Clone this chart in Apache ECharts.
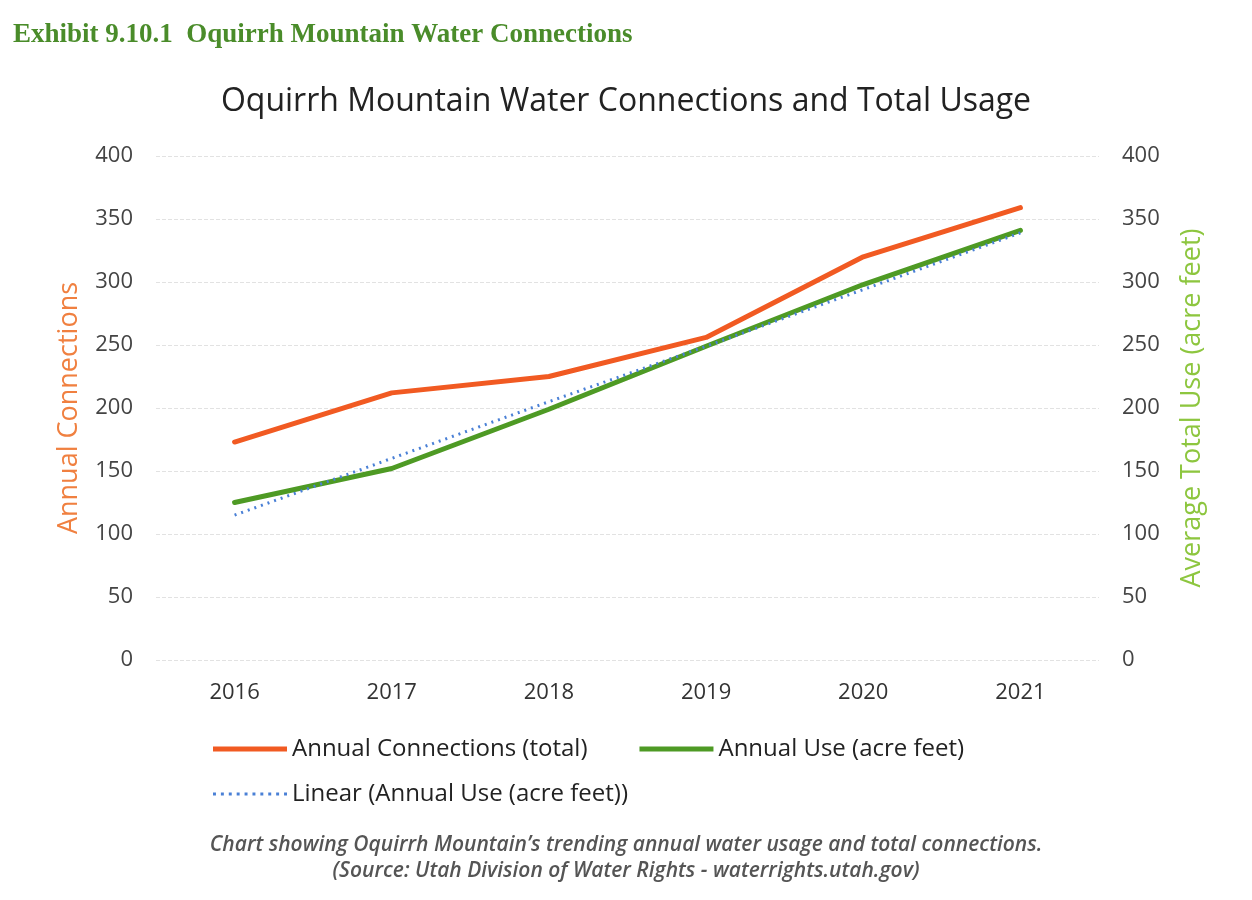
<!DOCTYPE html>
<html>
<head>
<meta charset="utf-8">
<script src="https://cdn.jsdelivr.net/npm/echarts@6/dist/echarts.min.js"></script>
<style>
html,body{margin:0;padding:0;background:#fff;}
#c{width:1252px;height:900px;}
</style>
</head>
<body>
<div id="c"></div>
<script>
const years = ['2016','2017','2018','2019','2020','2021'];
const connections = [173, 212, 225, 256, 320, 359];
const annualUse = [125, 152, 199, 249, 298, 341];
const linearUse = [115, 160, 205, 249, 294, 339];

const FONT = 'Open Sans';
const dottedIcon = 'path://M0,0h3v3h-3z M8,0h3v3h-3z M16,0h3v3h-3z M24,0h3v3h-3z M32,0h3v3h-3z M40,0h3v3h-3z M48,0h3v3h-3z M56,0h3v3h-3z M64,0h3v3h-3z M72,0h3v3h-3z';

const chart = echarts.init(document.getElementById('c'));
chart.setOption({
  backgroundColor: '#ffffff',
  animation: false,
  title: [
    { text: 'Exhibit 9.10.1  Oquirrh Mountain Water Connections', left: 8, top: 17,
      textStyle: { fontFamily: 'Liberation Serif', fontWeight: 'bold', fontSize: 27, color: '#4a8c2a' } },
    { text: 'Oquirrh Mountain Water Connections and Total Usage', left: 'center', top: 81,
      textStyle: { fontFamily: FONT, fontWeight: 'normal', fontSize: 32, color: '#222' } }
  ],
  graphic: [
    { type: 'text', x: 626, y: 845, style: { text: 'Chart showing Oquirrh Mountain\u2019s trending annual water usage and total connections.',
      align: 'center', verticalAlign: 'middle', fontFamily: FONT, fontStyle: 'italic', fontWeight: 600, fontSize: 21, fill: '#555' } },
    { type: 'text', x: 626, y: 871, style: { text: '(Source: Utah Division of Water Rights - waterrights.utah.gov)',
      align: 'center', verticalAlign: 'middle', fontFamily: FONT, fontStyle: 'italic', fontWeight: 600, fontSize: 21, fill: '#555' } }
  ],
  legend: [
    { left: 208, top: 732, itemWidth: 74, itemHeight: 5, itemGap: 52, icon: 'rect',
      data: [{ name: 'Annual Connections (total)' }, { name: 'Annual Use (acre feet)' }],
      textStyle: { fontFamily: FONT, fontSize: 24, color: '#222' } },
    { left: 208, top: 777, itemWidth: 74, itemHeight: 3, icon: dottedIcon,
      data: [{ name: 'Linear (Annual Use (acre feet))' }],
      textStyle: { fontFamily: FONT, fontSize: 24, color: '#222' } }
  ],
  grid: { left: 156, right: 153, top: 156, bottom: 240 },
  xAxis: {
    type: 'category', data: years, boundaryGap: true,
    axisLine: { show: false }, axisTick: { show: false },
    axisLabel: { fontFamily: FONT, fontSize: 22, color: '#333', margin: 22 }
  },
  yAxis: [
    { type: 'value', min: 0, max: 400, interval: 50, position: 'left',
      name: 'Annual Connections', nameLocation: 'middle', nameGap: 73, nameRotate: 90,
      nameTextStyle: { fontFamily: FONT, fontSize: 27, color: '#f08040' },
      axisLine: { show: false }, axisTick: { show: false },
      axisLabel: { fontFamily: FONT, fontSize: 22, color: '#444', margin: 23 },
      splitLine: { lineStyle: { color: '#e2e2e2', type: 'dashed', width: 1 } } },
    { type: 'value', min: 0, max: 400, interval: 50, position: 'right',
      name: 'Average Total Use (acre feet)', nameLocation: 'middle', nameGap: 80, nameRotate: 90,
      nameTextStyle: { fontFamily: FONT, fontSize: 27, color: '#8dc63f' },
      axisLine: { show: false }, axisTick: { show: false },
      axisLabel: { fontFamily: FONT, fontSize: 22, color: '#444', margin: 23 },
      splitLine: { show: false } }
  ],
  series: [
    { name: 'Annual Connections (total)', type: 'line', yAxisIndex: 0, data: connections,
      symbol: 'none', color: '#f15a22', lineStyle: { width: 5, color: '#f15a22', cap: 'round' } },
    { name: 'Annual Use (acre feet)', type: 'line', yAxisIndex: 1, data: annualUse,
      symbol: 'none', color: '#4e9a24', lineStyle: { width: 5, color: '#4e9a24', cap: 'round' } },
    { name: 'Linear (Annual Use (acre feet))', type: 'line', yAxisIndex: 1, data: linearUse,
      symbol: 'none', color: '#4a80d6', z: 3, lineStyle: { width: 3, color: '#4a80d6', type: [2, 5] } }
  ]
});
</script>
</body>
</html>
